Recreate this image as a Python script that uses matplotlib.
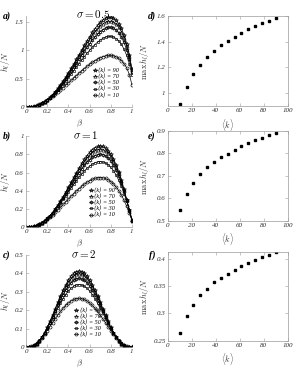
import matplotlib
matplotlib.use("Agg")
import matplotlib.pyplot as plt
from matplotlib.font_manager import FontProperties

plt.rcParams["font.family"] = "Liberation Serif"
plt.rcParams["font.style"] = "italic"
plt.rcParams["mathtext.fontset"] = "cm"

# ---------------------------------------------------------------------------
# datos
# ---------------------------------------------------------------------------
beta = [0.0, 0.025, 0.05, 0.075, 0.1, 0.125, 0.15, 0.175, 0.2, 0.225,
        0.25, 0.275, 0.3, 0.325, 0.35, 0.375, 0.4, 0.425, 0.45, 0.475,
        0.5, 0.525, 0.55, 0.575, 0.6, 0.625, 0.65, 0.675, 0.7, 0.725,
        0.75, 0.775, 0.8, 0.825, 0.85, 0.875, 0.9, 0.925, 0.95, 0.975, 1.0]

k_curvas = [90, 70, 50, 30, 10]

# sigma = 0.5
h_a_90 = [0, 0.001, 0.005, 0.013, 0.026, 0.044, 0.068, 0.098, 0.133, 0.174, 0.221, 0.274, 0.331, 0.394,
          0.461, 0.532, 0.606, 0.684, 0.763, 0.845, 0.926, 1.007, 1.088, 1.167, 1.242, 1.314, 1.379,
          1.438, 1.489, 1.530, 1.560, 1.577, 1.579, 1.563, 1.527, 1.468, 1.384, 1.268, 1.116, 0.921, 0.668]
h_a_70 = [0, 0.001, 0.005, 0.014, 0.027, 0.046, 0.070, 0.100, 0.135, 0.176, 0.222, 0.273, 0.329, 0.389,
          0.454, 0.522, 0.593, 0.667, 0.742, 0.819, 0.897, 0.974, 1.050, 1.123, 1.194, 1.261, 1.323,
          1.378, 1.425, 1.464, 1.492, 1.507, 1.509, 1.494, 1.460, 1.406, 1.327, 1.218, 1.076, 0.892, 0.652]
h_a_50 = [0, 0.001, 0.005, 0.014, 0.027, 0.046, 0.069, 0.098, 0.132, 0.171, 0.215, 0.263, 0.316, 0.372,
          0.433, 0.496, 0.562, 0.631, 0.701, 0.772, 0.843, 0.914, 0.984, 1.051, 1.116, 1.178, 1.234,
          1.284, 1.328, 1.363, 1.388, 1.402, 1.404, 1.391, 1.360, 1.310, 1.238, 1.139, 1.008, 0.839, 0.617]
h_a_30 = [0, 0.001, 0.006, 0.016, 0.030, 0.049, 0.072, 0.100, 0.132, 0.169, 0.210, 0.254, 0.302, 0.354,
          0.408, 0.464, 0.523, 0.583, 0.644, 0.706, 0.767, 0.828, 0.888, 0.946, 1.001, 1.053, 1.101,
          1.143, 1.180, 1.209, 1.231, 1.243, 1.244, 1.233, 1.207, 1.165, 1.104, 1.020, 0.909, 0.763, 0.571]
h_a_10 = [0, 0.003, 0.010, 0.021, 0.036, 0.055, 0.077, 0.103, 0.131, 0.162, 0.195, 0.231, 0.268, 0.307,
          0.347, 0.388, 0.430, 0.472, 0.515, 0.557, 0.599, 0.640, 0.680, 0.718, 0.754, 0.788, 0.818,
          0.845, 0.869, 0.888, 0.901, 0.909, 0.910, 0.902, 0.886, 0.859, 0.820, 0.766, 0.693, 0.575, 0.390]

# sigma = 1
h_b_90 = [0, 0.000, 0.003, 0.008, 0.016, 0.029, 0.045, 0.067, 0.093, 0.124, 0.158, 0.198, 0.240, 0.287,
          0.336, 0.387, 0.439, 0.493, 0.546, 0.599, 0.650, 0.699, 0.744, 0.785, 0.820, 0.850, 0.872,
          0.885, 0.890, 0.885, 0.869, 0.841, 0.802, 0.750, 0.685, 0.607, 0.517, 0.415, 0.304, 0.187, 0.072]
h_b_70 = [0, 0.001, 0.003, 0.009, 0.018, 0.031, 0.049, 0.071, 0.097, 0.127, 0.162, 0.200, 0.242, 0.287,
          0.334, 0.383, 0.433, 0.484, 0.534, 0.584, 0.632, 0.677, 0.719, 0.757, 0.790, 0.818, 0.838,
          0.851, 0.855, 0.850, 0.835, 0.810, 0.773, 0.725, 0.664, 0.591, 0.506, 0.410, 0.304, 0.191, 0.076]
h_b_50 = [0, 0.001, 0.004, 0.010, 0.019, 0.033, 0.051, 0.072, 0.098, 0.128, 0.161, 0.198, 0.238, 0.280,
          0.324, 0.369, 0.416, 0.462, 0.509, 0.554, 0.598, 0.639, 0.677, 0.712, 0.742, 0.766, 0.785,
          0.796, 0.800, 0.796, 0.782, 0.759, 0.726, 0.682, 0.627, 0.561, 0.483, 0.395, 0.296, 0.189, 0.078]
h_b_30 = [0, 0.001, 0.004, 0.011, 0.022, 0.036, 0.054, 0.075, 0.100, 0.128, 0.160, 0.193, 0.230, 0.268,
          0.307, 0.348, 0.389, 0.430, 0.470, 0.509, 0.547, 0.583, 0.616, 0.645, 0.670, 0.691, 0.707,
          0.717, 0.720, 0.716, 0.705, 0.686, 0.657, 0.620, 0.573, 0.516, 0.448, 0.370, 0.283, 0.185, 0.081]
h_b_10 = [0, 0.001, 0.005, 0.012, 0.022, 0.035, 0.050, 0.069, 0.089, 0.112, 0.137, 0.163, 0.191, 0.220,
          0.250, 0.280, 0.310, 0.340, 0.369, 0.397, 0.424, 0.449, 0.472, 0.493, 0.511, 0.525, 0.536,
          0.543, 0.545, 0.542, 0.535, 0.521, 0.501, 0.475, 0.442, 0.401, 0.353, 0.296, 0.231, 0.157, 0.073]

# sigma = 2
h_c_90 = [0, 0.000, 0.003, 0.009, 0.019, 0.035, 0.055, 0.080, 0.108, 0.140, 0.174, 0.210, 0.245, 0.279,
          0.311, 0.340, 0.365, 0.386, 0.401, 0.410, 0.413, 0.410, 0.401, 0.386, 0.365, 0.340, 0.311,
          0.279, 0.245, 0.210, 0.174, 0.140, 0.108, 0.080, 0.055, 0.035, 0.019, 0.009, 0.003, 0.000, 0]
h_c_70 = [0, 0.000, 0.003, 0.009, 0.020, 0.035, 0.055, 0.079, 0.107, 0.138, 0.170, 0.204, 0.238, 0.271,
          0.301, 0.329, 0.353, 0.372, 0.386, 0.395, 0.398, 0.395, 0.386, 0.372, 0.353, 0.329, 0.301,
          0.271, 0.238, 0.204, 0.170, 0.138, 0.107, 0.079, 0.055, 0.035, 0.020, 0.009, 0.003, 0.000, 0]
h_c_50 = [0, 0.001, 0.003, 0.010, 0.020, 0.035, 0.055, 0.078, 0.105, 0.134, 0.164, 0.196, 0.227, 0.257,
          0.285, 0.310, 0.332, 0.350, 0.363, 0.370, 0.373, 0.370, 0.363, 0.350, 0.332, 0.310, 0.285,
          0.257, 0.227, 0.196, 0.164, 0.134, 0.105, 0.078, 0.055, 0.035, 0.020, 0.010, 0.003, 0.001, 0]
h_c_30 = [0, 0.001, 0.004, 0.011, 0.022, 0.037, 0.055, 0.077, 0.102, 0.129, 0.156, 0.185, 0.212, 0.239,
          0.264, 0.286, 0.305, 0.320, 0.331, 0.338, 0.340, 0.338, 0.331, 0.320, 0.305, 0.286, 0.264,
          0.239, 0.212, 0.185, 0.156, 0.129, 0.102, 0.077, 0.055, 0.037, 0.022, 0.011, 0.004, 0.001, 0]
h_c_10 = [0, 0.001, 0.005, 0.012, 0.023, 0.036, 0.053, 0.071, 0.091, 0.112, 0.133, 0.154, 0.174, 0.194,
          0.211, 0.227, 0.240, 0.251, 0.259, 0.263, 0.265, 0.263, 0.259, 0.251, 0.240, 0.227, 0.211,
          0.194, 0.174, 0.154, 0.133, 0.112, 0.091, 0.071, 0.053, 0.036, 0.023, 0.012, 0.005, 0.001, 0]

# maximos frente a <k>
k_medio = [10, 15.7, 21.4, 27.1, 32.9, 38.6, 44.3, 50, 55.7, 61.4, 67.1, 72.9, 78.6, 84.3, 90]
max_d = [0.912, 1.047, 1.148, 1.216, 1.276, 1.328, 1.372, 1.405, 1.436, 1.467, 1.494, 1.522, 1.543, 1.561, 1.579]
max_e = [0.546, 0.618, 0.668, 0.707, 0.738, 0.760, 0.783, 0.799, 0.817, 0.835, 0.848, 0.860, 0.870, 0.880, 0.891]
max_f = [0.264, 0.295, 0.316, 0.333, 0.345, 0.357, 0.365, 0.373, 0.380, 0.387, 0.393, 0.398, 0.403, 0.407, 0.412]

# ---------------------------------------------------------------------------
# estilo
# ---------------------------------------------------------------------------
W, H = 307, 370
GRIS = "#9a9a9a"
TXT = "#333333"
marcadores = ["*", "^", (6, 1, 0), "s", "o"]
tam_marc = [3.0, 2.3, 2.6, 2.1, 2.2]
fuente_leyenda = FontProperties(family=["Liberation Serif", "DejaVu Serif", "DejaVu Sans"],
                                style="italic", size=4.4)


def caja(x0, y_top, ancho, alto):
    return [x0 / W, 1 - (y_top + alto) / H, ancho / W, alto / H]


def estilo_ejes(ax, caja_completa):
    ax.tick_params(direction="in", length=2, width=0.4, color=GRIS,
                   labelsize=5, labelcolor=TXT, pad=1.5)
    for lado in ["left", "bottom", "top", "right"]:
        ax.spines[lado].set_color(GRIS)
        ax.spines[lado].set_linewidth(0.5)
    if caja_completa:
        ax.tick_params(top=True, right=True)
    else:
        ax.spines["top"].set_visible(False)
        ax.spines["right"].set_visible(False)


fig = plt.figure(figsize=(W / 100, H / 100), dpi=100)

izq = [
    (caja(26, 16.1, 106, 91.2), [h_a_90, h_a_70, h_a_50, h_a_30, h_a_10], 1.6,
     [0, 0.5, 1, 1.5], r"$\sigma = 0.5$", "a)", (0.632, 0.43)),
    (caja(26, 136.0, 106, 91.3), [h_b_90, h_b_70, h_b_50, h_b_30, h_b_10], 1.0,
     [0, 0.2, 0.4, 0.6, 0.8, 1], r"$\sigma = 1$", "b)", (0.594, 0.43)),
    (caja(26, 255.0, 106, 92.3), [h_c_90, h_c_70, h_c_50, h_c_30, h_c_10], 0.5,
     [0, 0.1, 0.2, 0.3, 0.4, 0.5], r"$\sigma = 2$", "c)", (0.453, 0.427)),
]

titulos_x = [93, 86, 84]
base_y = [18.5, 138.5, 257.5]

for i, (pos, curvas, ytop, yticks, titulo, letra, ley) in enumerate(izq):
    ax = fig.add_axes(pos)
    for h, k, m, ms in zip(curvas, k_curvas, marcadores, tam_marc):
        ax.plot(beta, h, color="black", linewidth=0.5, marker=m, markersize=ms,
                markerfacecolor="none", markeredgecolor="black", markeredgewidth=0.45,
                label="\u27e8k\u27e9 = %d" % k)
    ax.set_xlim(0, 1)
    ax.set_ylim(0, ytop)
    ax.set_xticks([0, 0.2, 0.4, 0.6, 0.8, 1])
    ax.set_xticklabels(["0", "0.2", "0.4", "0.6", "0.8", "1"])
    ax.set_yticks(yticks)
    ax.set_yticklabels(["%g" % v for v in yticks])
    estilo_ejes(ax, False)
    ax.set_xlabel(r"$\beta$", fontsize=6, color=TXT)
    ax.xaxis.set_label_coords(0.5, -0.115)
    ax.set_ylabel(r"$h_l/N$", fontsize=6, color=TXT)
    ax.yaxis.set_label_coords(-0.13, 0.5)
    ax.legend(loc="upper left", bbox_to_anchor=ley, frameon=False, prop=fuente_leyenda,
              handlelength=0.6, handletextpad=0.3, labelspacing=0.12,
              borderpad=0, borderaxespad=0)
    fig.text(titulos_x[i] / W, 1 - base_y[i] / H, titulo, fontsize=8,
             ha="center", va="baseline", color="black")
    fig.text(7 / W, 1 - base_y[i] / H, letra, fontsize=7, fontweight="bold",
             ha="center", va="baseline")

der = [
    (caja(167.7, 15.7, 120, 90.3), max_d, (0.9, 1.6), [1, 1.2, 1.4, 1.6], "d)"),
    (caja(167.7, 131.0, 120, 89.7), max_e, (0.5, 0.9), [0.5, 0.6, 0.7, 0.8, 0.9], "e)"),
    (caja(167.7, 251.9, 120, 88.8), max_f, (0.25, 0.413), [0.25, 0.3, 0.35, 0.4], "f)"),
]

for i, (pos, valores, ylim, yticks, letra) in enumerate(der):
    ax = fig.add_axes(pos)
    ax.plot(k_medio, valores, linestyle="none", marker="s", markersize=2.0,
            color="black")
    ax.set_xlim(0, 100)
    ax.set_ylim(*ylim)
    ax.set_xticks([0, 20, 40, 60, 80, 100])
    ax.set_yticks(yticks)
    ax.set_yticklabels(["%g" % v for v in yticks])
    estilo_ejes(ax, True)
    ax.set_xlabel(r"$\langle k\rangle$", fontsize=6, color=TXT)
    ax.xaxis.set_label_coords(0.5, -0.12)
    ax.set_ylabel(r"$\max\, h_l/N$", fontsize=6, color=TXT)
    ax.yaxis.set_label_coords(-0.14, 0.5)
    fig.text(152 / W, 1 - base_y[i] / H, letra, fontsize=7, fontweight="bold",
             ha="center", va="baseline")

fig.savefig("out.png", dpi=100)
